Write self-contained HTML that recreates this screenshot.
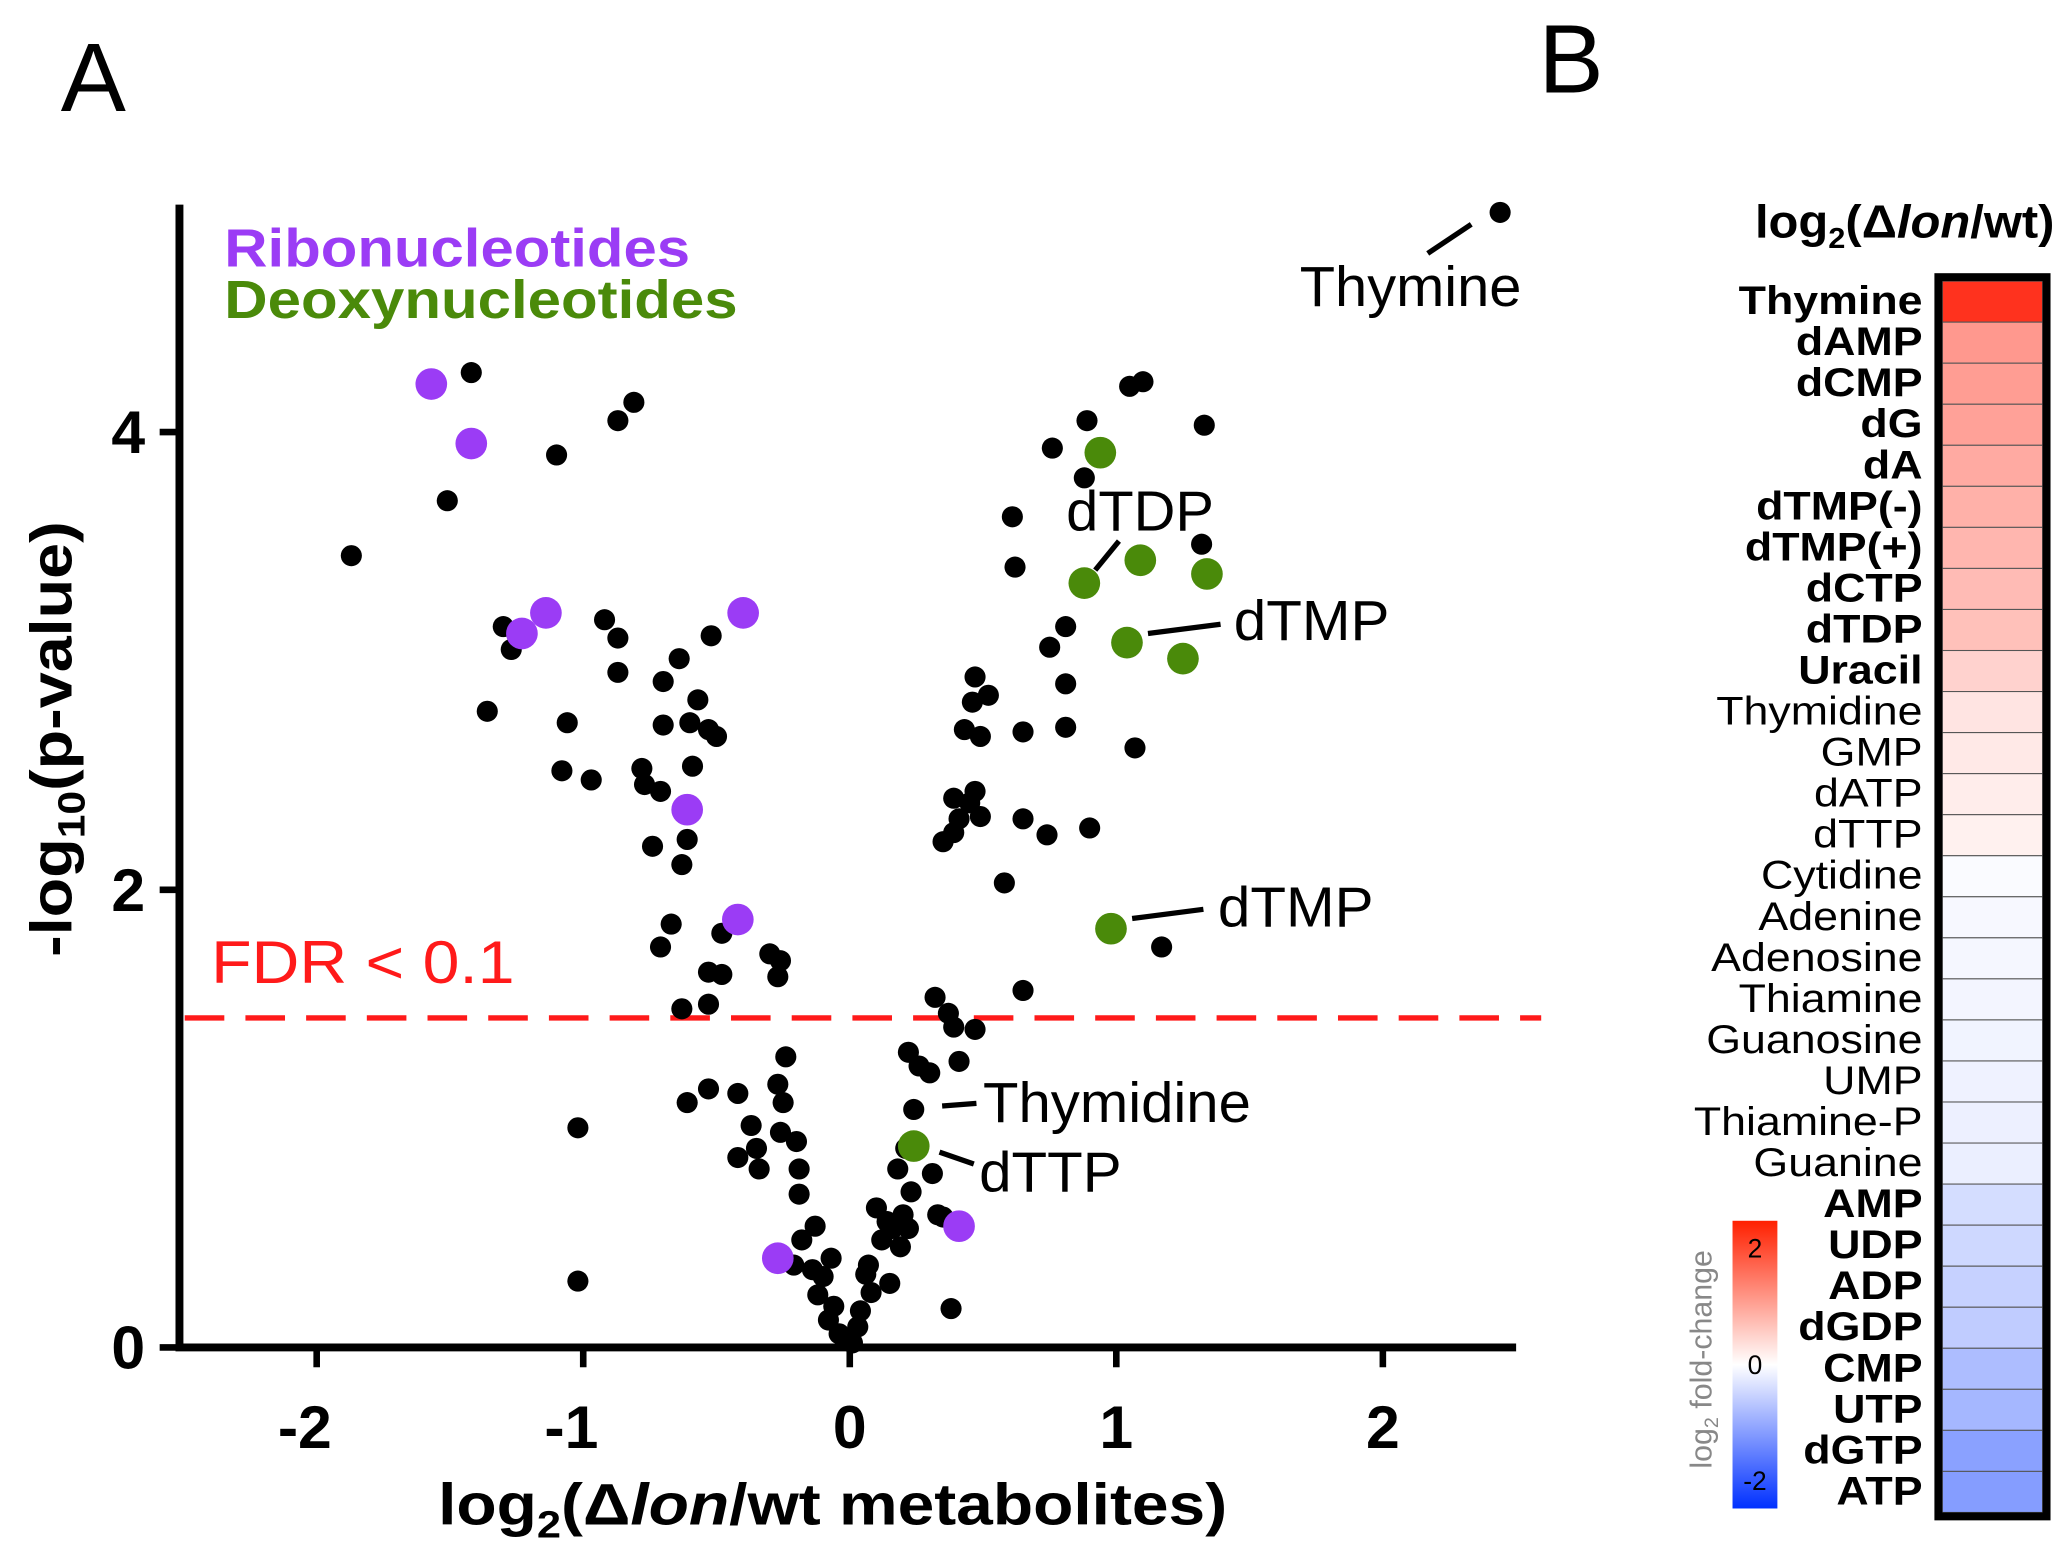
<!DOCTYPE html>
<html><head><meta charset="utf-8"><style>
html,body{margin:0;padding:0;background:#fff;}
svg{display:block;font-family:"Liberation Sans",Arial,sans-serif;}
</style></head><body>
<svg id="fig" width="2069" height="1556" viewBox="0 0 1568 1179" preserveAspectRatio="none" xmlns="http://www.w3.org/2000/svg">
<text x="46" y="84" font-size="74">A</text>
<text x="1166" y="70" font-size="74">B</text>
<g id="volcano"></g>
<g id="heat"></g>
</svg>
<script>
// ---- Volcano data ----
const blackX=[2.44,-1.42,-0.81,-0.87,-1.10,-1.51,-1.87,-1.30,-1.27,-0.92,-0.87,-0.87,-1.36,-1.06,-1.08,-0.97,-0.52,-0.64,-0.70,-0.57,-0.70,-0.60,-0.53,-0.50,-0.78,-0.59,-0.77,-0.71,-0.61,-0.74,-0.63,-0.67,-0.71,-0.48,-0.53,-0.48,-0.30,-0.26,-0.27,-0.63,-0.53,
-0.24,-0.42,-0.53,-0.61,-0.27,-0.25,-0.37,-0.26,-0.20,-0.35,-0.42,-0.34,-0.19,-0.19,-0.13,-0.18,-0.07,-0.21,-0.14,-0.10,-0.12,-0.06,-0.08,-0.04,-0.01,-1.02,-1.02,
1.10,1.05,0.89,1.33,0.76,0.88,0.61,1.32,0.62,0.81,0.75,0.81,0.47,0.46,0.52,0.43,0.49,0.65,0.81,1.07,0.39,0.47,0.45,0.41,0.49,0.65,0.74,0.90,0.39,0.35,0.58,1.17,0.65,0.32,0.37,0.39,0.47,0.41,0.22,0.26,0.30,0.24,0.18,0.31,0.21,0.23,0.33,0.35,0.10,0.20,0.14,0.16,0.22,0.12,0.19,0.07,0.15,0.06,0.08,0.04,0.03,0.38,0.01];
const blackY=[4.96,4.26,4.13,4.05,3.90,3.70,3.46,3.15,3.05,3.18,3.10,2.95,2.78,2.73,2.52,2.48,3.11,3.01,2.91,2.83,2.72,2.73,2.70,2.67,2.53,2.54,2.46,2.43,2.22,2.19,2.11,1.85,1.75,1.81,1.64,1.63,1.72,1.69,1.62,1.48,1.50,
1.27,1.11,1.13,1.07,1.15,1.07,0.97,0.94,0.90,0.87,0.83,0.78,0.78,0.67,0.53,0.47,0.39,0.36,0.34,0.31,0.23,0.18,0.12,0.06,0.03,0.96,0.29,
4.22,4.20,4.05,4.03,3.93,3.80,3.63,3.51,3.41,3.15,3.06,2.90,2.93,2.82,2.85,2.70,2.67,2.69,2.71,2.62,2.40,2.43,2.38,2.31,2.32,2.31,2.24,2.27,2.25,2.21,2.03,1.75,1.56,1.53,1.46,1.40,1.39,1.25,1.29,1.23,1.20,1.04,0.78,0.76,0.87,0.68,0.58,0.57,0.61,0.58,0.55,0.52,0.52,0.47,0.44,0.36,0.28,0.32,0.24,0.16,0.09,0.17,0.02];
const riboX=[-1.57,-1.42,-1.14,-1.23,-0.40,-0.61,-0.42,-0.27,0.41];
const riboY=[4.21,3.95,3.21,3.12,3.21,2.35,1.87,0.39,0.53];
const deoxyX=[0.94,1.09,1.34,0.88,1.04,1.25,0.98,0.24];
const deoxyY=[3.91,3.44,3.38,3.34,3.08,3.01,1.83,0.88];
const xTicks=[-2,-1,0,1,2];
const yTicks=[0,2,4];
const fdrThreshold=1.44;
// ---- Heatmap data ----
const heatNames=["Thymine","dAMP","dCMP","dG","dA","dTMP(-)","dTMP(+)","dCTP","dTDP","Uracil","Thymidine","GMP","dATP","dTTP","Cytidine","Adenine","Adenosine","Thiamine","Guanosine","UMP","Thiamine-P","Guanine","AMP","UDP","ADP","dGDP","CMP","UTP","dGTP","ATP"];
const heatValues=[2.3,1.15,1.1,1.05,0.95,0.88,0.82,0.76,0.7,0.5,0.3,0.25,0.2,0.16,-0.05,-0.08,-0.1,-0.12,-0.14,-0.16,-0.18,-0.2,-0.42,-0.48,-0.56,-0.62,-0.8,-0.88,-1.15,-1.2];
const heatBold=[1,1,1,1,1,1,1,1,1,1,0,0,0,0,0,0,0,0,0,0,0,0,1,1,1,1,1,1,1,1];
const cbTicks=[2,0,-2];

const NS="http://www.w3.org/2000/svg";
function mk(tag,attrs,parent){const e=document.createElementNS(NS,tag);for(const k in attrs)e.setAttribute(k,attrs[k]);parent.appendChild(e);return e;}
const V=document.getElementById('volcano');
const sx=v=>644+v*202, sy=v=>1021-v*173.4;

let e;
e=mk('line',{x1:136,y1:155,x2:136,y2:1023,stroke:'#000','stroke-width':6},V);


e=mk('line',{x1:133,y1:1021,x2:1149,y2:1021,stroke:'#000','stroke-width':6},V);


xTicks.forEach(t=>{
  mk('line',{x1:sx(t),y1:1021,x2:sx(t),y2:1036,stroke:'#000','stroke-width':5},V);
  e=mk('text',{x:sx(t)-(t<0?9:0),y:1097,'font-size':46,'font-weight':'bold','text-anchor':'middle'},V);
  e.textContent=t<0?'-'+Math.abs(t):String(t);
  
  
});
yTicks.forEach(t=>{
  mk('line',{x1:121,y1:sy(t),x2:136,y2:sy(t),stroke:'#000','stroke-width':5},V);
  e=mk('text',{x:110,y:sy(t)+16,'font-size':46,'font-weight':'bold','text-anchor':'end'},V);
  e.textContent=String(t);
  
  
});
e=mk('text',{x:332,y:1155,'font-size':44,'font-weight':'bold',textLength:598,lengthAdjust:'spacingAndGlyphs'},V);
e.innerHTML='log<tspan font-size="29" dy="10">2</tspan><tspan dy="-10">(Δ</tspan><tspan font-style="italic">lon</tspan>/wt metabolites)';


e=mk('text',{x:0,y:0,'font-size':44,'font-weight':'bold',textLength:330,lengthAdjust:'spacingAndGlyphs',transform:'translate(54,725) rotate(-90)'},V);
e.innerHTML='-log<tspan font-size="29" dy="10">10</tspan><tspan dy="-10">(p-value)</tspan>';


e=mk('line',{x1:140,y1:sy(fdrThreshold),x2:1168,y2:sy(fdrThreshold),stroke:'#ff1a1a','stroke-width':4,'stroke-dasharray':'30 16'},V);


e=mk('text',{x:160,y:745,'font-size':46,fill:'#ff1a1a',textLength:230,lengthAdjust:'spacingAndGlyphs'},V);
e.textContent='FDR < 0.1';


blackX.forEach((x,i)=>{
  e=mk('circle',{cx:sx(x),cy:sy(blackY[i]),r:8,fill:'#000'},V);
  
  
});
riboX.forEach((x,i)=>{
  e=mk('circle',{cx:sx(x),cy:sy(riboY[i]),r:12,fill:'#9b3cf5'},V);
  
  
});
deoxyX.forEach((x,i)=>{
  e=mk('circle',{cx:sx(x),cy:sy(deoxyY[i]),r:12,fill:'#4a8a0a'},V);
  
  
});
e=mk('text',{x:170,y:202,'font-size':41,'font-weight':'bold',fill:'#9b3cf5',textLength:353,lengthAdjust:'spacingAndGlyphs'},V);
e.textContent='Ribonucleotides';


e=mk('text',{x:170,y:241,'font-size':41,'font-weight':'bold',fill:'#4a8a0a',textLength:389,lengthAdjust:'spacingAndGlyphs'},V);
e.textContent='Deoxynucleotides';


const ann=[['Thymine',985,232,1082,192,1115,170,168],['dTDP',808,402,830,432,848,410,112],['dTMP',935,485,870,480,925,473,118],['dTMP',923,702,858,696,912,689,118],['Thymidine',745,850,714,838,740,836,203],['dTTP',742,903,712,873,738,882,108]];
ann.forEach(a=>{
  mk('line',{x1:a[3],y1:a[4],x2:a[5],y2:a[6],stroke:'#000','stroke-width':4},V);
  e=mk('text',{x:a[1],y:a[2],'font-size':43,textLength:a[7],lengthAdjust:'spacingAndGlyphs'},V);
  e.textContent=a[0];
  
  
});

// ---- Heatmap ----
const H=document.getElementById('heat');
function col(v){
  const f=Math.min(1,Math.abs(v)/2.5);
  if(v>=0) return `rgb(255,${Math.round(255-f*223)},${Math.round(255-f*245)})`;
  return `rgb(${Math.round(255-f*255)},${Math.round(255-f*205)},255)`;
}
e=mk('text',{x:1330,y:180,'font-size':35,'font-weight':'bold',textLength:227,lengthAdjust:'spacingAndGlyphs'},H);
e.innerHTML='log<tspan font-size="22" dy="8">2</tspan><tspan dy="-8">(Δ</tspan><tspan font-style="italic">lon</tspan>/wt)';


const top0=213, rowH=31.1;
heatNames.forEach((n,i)=>{
  e=mk('rect',{x:1472,y:top0+i*rowH,width:76,height:rowH,fill:col(heatValues[i]),stroke:'#555','stroke-width':0.8},H);
  
  
  e=mk('text',{x:0,y:0,'font-size':30,'font-weight':heatBold[i]?'bold':'normal','text-anchor':'end',transform:`translate(1457,${top0+i*rowH+25}) scale(1.13,1)`},H);
  e.textContent=n;
  
  
});
e=mk('rect',{x:1469,y:210,width:82,height:top0+30*rowH-207,fill:'none',stroke:'#000','stroke-width':6},H);


const defs=mk('defs',{},H);
const g=mk('linearGradient',{id:'cb',x1:0,y1:0,x2:0,y2:1},defs);
mk('stop',{offset:'0',  'stop-color':'#ff2000'},g);
mk('stop',{offset:'0.5','stop-color':'#ffffff'},g);
mk('stop',{offset:'1',  'stop-color':'#0030ff'},g);
e=mk('rect',{x:1313,y:925,width:34,height:218,fill:'url(#cb)'},H);


const cy=v=>1034-v*44;
cbTicks.forEach(t=>{
  e=mk('text',{x:1330,y:cy(t)+7,'font-size':20,'text-anchor':'middle'},H);
  e.textContent=String(t);
  
  
});
e=mk('text',{x:0,y:0,'font-size':23,fill:'#888','text-anchor':'middle',transform:'translate(1297,1030) rotate(-90)'},H);
e.innerHTML='log<tspan font-size="15" dy="5">2</tspan><tspan dy="-5"> fold-change</tspan>';


</script>
</body></html>
